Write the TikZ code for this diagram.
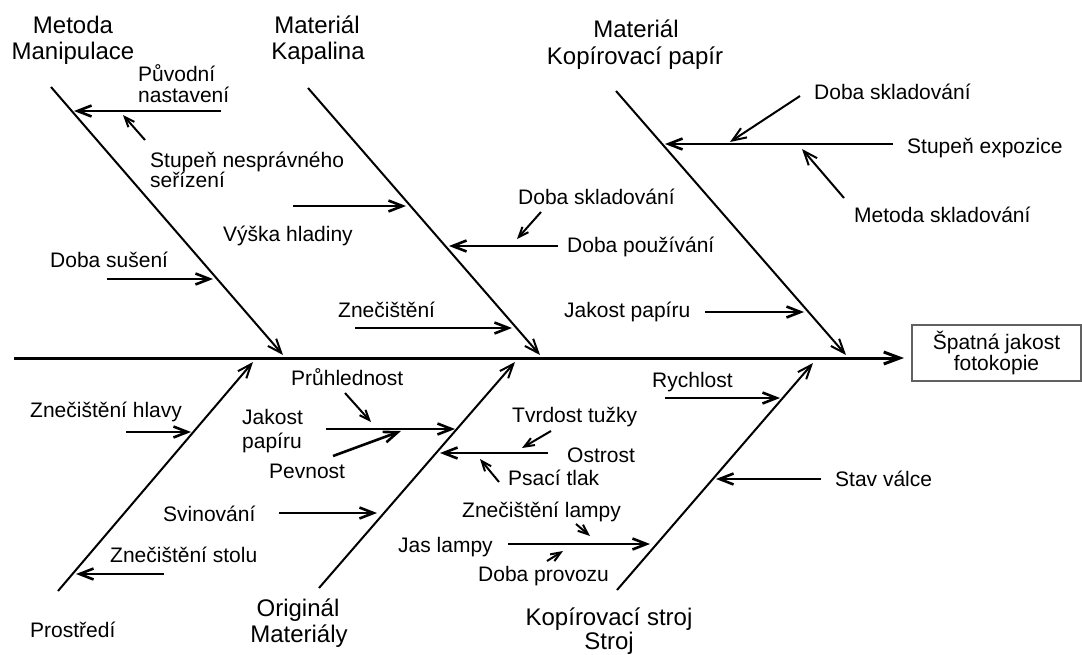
\documentclass[tikz,border=0pt]{standalone}
\usepackage{fontspec}
\setmainfont{Liberation Sans}
\usetikzlibrary{arrows.meta}

\begin{document}
\begin{tikzpicture}[x=1pt,y=-1pt,
  lbl/.style={inner sep=0pt, font=\fontsize{21}{23}\selectfont, anchor=base west},
  cat/.style={inner sep=0pt, font=\fontsize{24}{27}\selectfont, anchor=base},
  spine/.style={line width=3pt, -{Straight Barb[length=16pt,width=12pt]}},
  bone/.style={line width=2pt, -{Straight Barb[length=14pt,width=11pt]}},
  cause/.style={line width=2.6pt, -{Straight Barb[length=14pt,width=11pt]}},
  minor/.style={line width=2pt, -{Straight Barb[length=10pt,width=8pt]}},
  effectbox/.style={draw=black!62, line width=1.4pt, inner sep=0pt,
    minimum width=169pt, minimum height=56pt, align=center,
    font=\fontsize{21}{21.5}\selectfont}
]
\useasboundingbox (0,0) rectangle (1082,654);

% ---------- effect and spine ----------
\node[effectbox] (effect) at (996.5,353) {Špatná jakost\\fotokopie};
\coordinate (sp0) at (14,358);
\coordinate (sp1) at (904,358);
\draw[spine] (sp0) -- (sp1);

% ---------- main bones ----------
\coordinate (b1s) at (51,87);   \coordinate (b1e) at (283,355);
\coordinate (b2s) at (308,88);  \coordinate (b2e) at (540,355);
\coordinate (b3s) at (616,91);  \coordinate (b3e) at (846,355);
\coordinate (b4s) at (58,591);  \coordinate (b4e) at (253,362);
\coordinate (b5s) at (319,588); \coordinate (b5e) at (515,362);
\coordinate (b6s) at (617,590); \coordinate (b6e) at (813,363);
\foreach \b in {1,...,6} \draw[bone] (b\b s) -- (b\b e);

% ---------- category labels ----------
\node[cat] (c1a) at (73,33)  {Metoda};
\node[cat] (c1b) at (73,59)  {Manipulace};
\node[cat] (c2a) at (317,33) {Materiál};
\node[cat] (c2b) at (318,59) {Kapalina};
\node[cat] (c3a) at (636,37) {Materiál};
\node[cat] (c3b) at (635,64) {Kopírovací papír};
\node[lbl] (c4a) at (30,637) {Prostředí};
\node[cat] (c5a) at (298,616) {Originál};
\node[cat] (c5b) at (299,642) {Materiály};
\node[cat] (c6a) at (609,625) {Kopírovací stroj};
\node[cat] (c6b) at (609,649) {Stroj};

% ---------- causes on the upper bones ----------
\node[lbl] (t1a) at (138,81)  {Původní};
\node[lbl] (t1b) at (138,102) {nastavení};
\coordinate (a1s) at (221,111); \coordinate (a1e) at (74,111);
\draw[cause] (a1s) -- (a1e);

\node[lbl] (t2a) at (150,167) {Stupeň nesprávného};
\node[lbl] (t2b) at (150,187) {seřízení};
\coordinate (a2s) at (145,140); \coordinate (a2e) at (123,115);
\draw[minor] (a2s) -- (a2e);

\node[lbl] (t3) at (50,267) {Doba sušení};
\coordinate (a3s) at (107,279); \coordinate (a3e) at (213,279);
\draw[cause] (a3s) -- (a3e);

\node[lbl] (t4) at (223,241) {Výška hladiny};
\coordinate (a4s) at (293,206); \coordinate (a4e) at (406,206);
\draw[cause] (a4s) -- (a4e);

\node[lbl] (t5) at (338,317) {Znečištění};
\coordinate (a5s) at (355,328); \coordinate (a5e) at (512,328);
\draw[cause] (a5s) -- (a5e);

\node[lbl] (t6) at (567,252) {Doba používání};
\coordinate (a6s) at (558,246); \coordinate (a6e) at (449,246);
\draw[cause] (a6s) -- (a6e);

\node[lbl] (t7) at (518,204) {Doba skladování};
\coordinate (a7s) at (541,212); \coordinate (a7e) at (517,239);
\draw[minor] (a7s) -- (a7e);

\node[lbl] (t8) at (907,153) {Stupeň expozice};
\coordinate (a8s) at (893,144); \coordinate (a8e) at (665,144);
\draw[cause] (a8s) -- (a8e);

\node[lbl] (t9) at (814,99) {Doba skladování};
\coordinate (a9s) at (800,96); \coordinate (a9e) at (730,142);
\draw[bone] (a9s) -- (a9e);

\node[lbl] (t10) at (854,222) {Metoda skladování};
\coordinate (a10s) at (844,198); \coordinate (a10e) at (802,149);
\draw[bone] (a10s) -- (a10e);

\node[lbl] (t11) at (564,317) {Jakost papíru};
\coordinate (a11s) at (705,312); \coordinate (a11e) at (804,312);
\draw[cause] (a11s) -- (a11e);

% ---------- causes on the lower bones ----------
\node[lbl] (u1) at (30,417) {Znečištění hlavy};
\coordinate (d1s) at (126,432); \coordinate (d1e) at (191,432);
\draw[cause] (d1s) -- (d1e);

\node[lbl] (u2) at (110,562) {Znečištění stolu};
\coordinate (d2s) at (164,574); \coordinate (d2e) at (76,574);
\draw[cause] (d2s) -- (d2e);

\node[lbl] (u3) at (163,521) {Svinování};
\coordinate (d3s) at (279,513); \coordinate (d3e) at (377,513);
\draw[cause] (d3s) -- (d3e);

\node[lbl] (u4a) at (242,424) {Jakost};
\node[lbl] (u4b) at (242,448) {papíru};
\coordinate (d4s) at (326,429); \coordinate (d4e) at (455,429);
\draw[cause] (d4s) -- (d4e);

\node[lbl] (u5) at (291,385) {Průhlednost};
\coordinate (d5s) at (345,393); \coordinate (d5e) at (371,422);
\draw[minor] (d5s) -- (d5e);

\node[lbl] (u6) at (269,478) {Pevnost};
\coordinate (d6s) at (333,456); \coordinate (d6e) at (401,431);
\draw[cause] (d6s) -- (d6e);

\node[lbl] (u7) at (567,462) {Ostrost};
\coordinate (d7s) at (548,453); \coordinate (d7e) at (440,453);
\draw[cause] (d7s) -- (d7e);

\node[lbl] (u8) at (512,422) {Tvrdost tužky};
\coordinate (d8s) at (551,431); \coordinate (d8e) at (522,448);
\draw[minor] (d8s) -- (d8e);

\node[lbl] (u9) at (508,485) {Psací tlak};
\coordinate (d9s) at (499,482); \coordinate (d9e) at (480,459);
\draw[minor] (d9s) -- (d9e);

\node[lbl] (u10) at (652,387) {Rychlost};
\coordinate (d10s) at (665,398); \coordinate (d10e) at (780,398);
\draw[cause] (d10s) -- (d10e);

\node[lbl] (u11) at (835,486) {Stav válce};
\coordinate (d11s) at (821,479); \coordinate (d11e) at (716,479);
\draw[cause] (d11s) -- (d11e);

\node[lbl] (u12) at (398,552) {Jas lampy};
\coordinate (d12s) at (508,544); \coordinate (d12e) at (650,544);
\draw[cause] (d12s) -- (d12e);

\node[lbl] (u13) at (462,517) {Znečištění lampy};
\coordinate (d13s) at (576,524); \coordinate (d13e) at (590,536);
\draw[minor] (d13s) -- (d13e);

\node[lbl] (u14) at (478,581) {Doba provozu};
\coordinate (d14s) at (547,561); \coordinate (d14e) at (563,551);
\draw[minor] (d14s) -- (d14e);
\end{tikzpicture}
\end{document}
